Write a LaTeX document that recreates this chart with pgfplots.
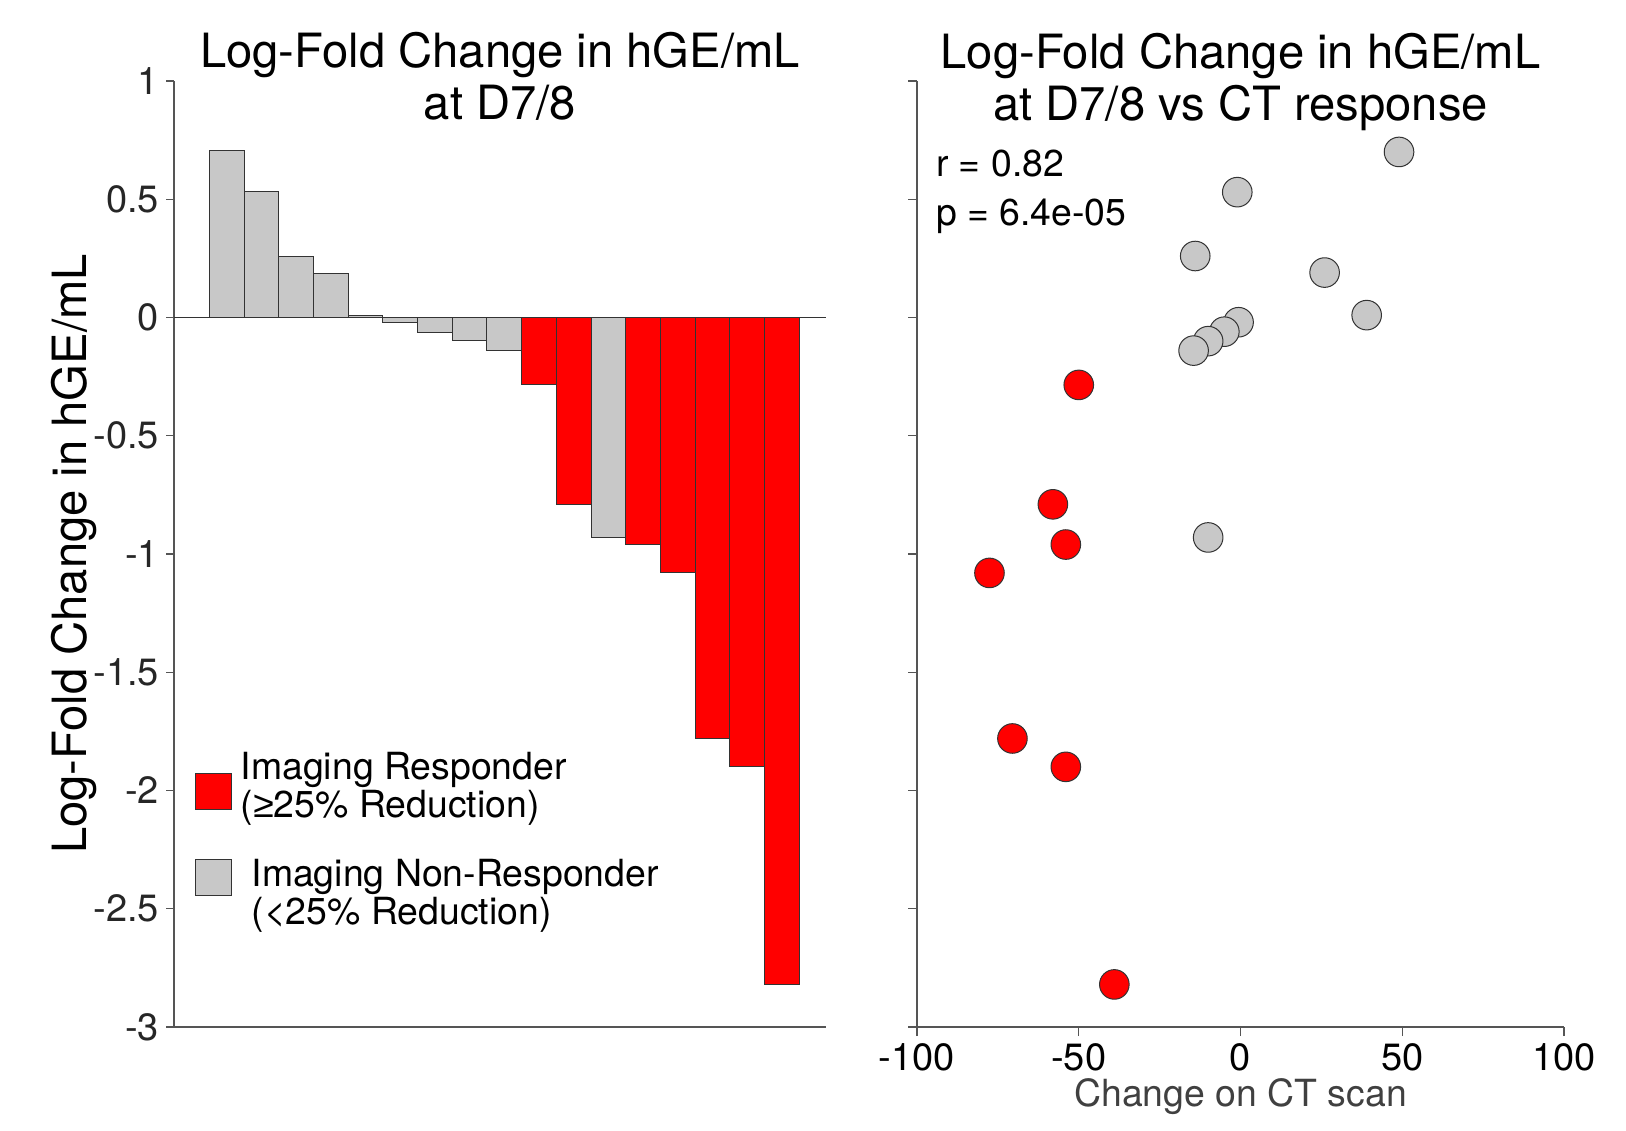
\documentclass[border=0pt]{standalone}
\usepackage{fontspec}
\setmainfont{TeX Gyre Heros}
\newfontfamily\symfont{Liberation Sans}
\usepackage{pgfplots}
\pgfplotsset{compat=1.18}
\definecolor{barred}{RGB}{255,0,0}
\definecolor{bargray}{RGB}{200,200,200}
\definecolor{spine}{RGB}{85,85,85}
\pgfplotsset{
  sqlegendA/.style={legend image code/.code={\draw[##1,/tikz/.cd] (0pt,-11.6pt) rectangle (18pt,6.4pt);}},
  sqlegendB/.style={legend image code/.code={\draw[##1,/tikz/.cd] (0pt,-1.2pt) rectangle (18pt,16.8pt);}},
}
\begin{document}
\begin{tikzpicture}
\useasboundingbox (0,0) rectangle (813pt,565pt);
\begin{axis}[
  at={(87pt,51.5pt)}, anchor=south west,
  scale only axis, width=326pt, height=473pt,
  xmin=-0.52, xmax=18.27, ymin=-3, ymax=1,
  axis x line*=bottom, axis y line*=left,
  axis line style={spine, line width=0.7pt},
  xtick=\empty,
  ytick={-3,-2.5,-2,-1.5,-1,-0.5,0,0.5,1},
  yticklabels={-3,-2.5,-2,-1.5,-1,-0.5,0,0.5,1},
  tick style={spine, line width=0.7pt},
  tick align=outside, major tick length=4pt,
  yticklabel style={font=\fontsize{19}{22}\selectfont, text=black!85},
  ylabel={Log-Fold Change in hGE/mL},
  ylabel style={font=\fontsize{23.6}{26}\selectfont, at={(axis description cs:-0.153,0.5)}, anchor=center},
  title={Log-Fold Change in hGE/mL\\at D7/8},
  title style={font=\fontsize{23.6}{26}\selectfont, align=center, at={(axis description cs:0.5,1)}, anchor=center, yshift=-3.7pt},
  legend style={at={(axis description cs:0.031,0.295)}, anchor=north west, draw=none, fill=none,
    font=\fontsize{18.7}{17.5}\selectfont, row sep=15.8pt, inner sep=0pt, cells={align=left}},
  legend cell align=left,
]
\addplot[ybar, bar width=1, bar shift=0pt, fill=barred, draw=black!80, line width=0.5pt, sqlegendA]
  coordinates {(10,-0.285)(11,-0.79)(13,-0.96)(14,-1.08)(15,-1.78)(16,-1.90)(17,-2.82)};
\addlegendentry{\hspace*{2.6pt}Imaging Responder\\\hspace*{2.6pt}({\symfont ≥}25\% Reduction)}
\addplot[ybar, bar width=1, bar shift=0pt, fill=bargray, draw=black!80, line width=0.5pt, sqlegendB]
  coordinates {(1,0.706)(2,0.534)(3,0.26)(4,0.186)(5,0.008)(6,-0.021)(7,-0.064)(8,-0.097)(9,-0.141)(12,-0.93)};
\addlegendentry{\hspace*{8pt}Imaging Non-Responder\\\hspace*{8pt}(<25\% Reduction)}
\addplot[black!80, line width=0.6pt, forget plot] coordinates {(-0.52,0)(18.27,0)};
\end{axis}
\begin{axis}[
  at={(458.5pt,51.5pt)}, anchor=south west,
  scale only axis, width=323.5pt, height=473pt,
  xmin=-100, xmax=100, ymin=-3, ymax=1,
  axis x line*=bottom, axis y line*=left,
  axis line style={spine, line width=0.7pt},
  xtick={-100,-50,0,50,100},
  xticklabels={-100,-50,0,50,100},
  ytick={-3,-2.5,-2,-1.5,-1,-0.5,0,0.5,1},
  yticklabels={},
  tick style={spine, line width=0.7pt},
  tick align=outside, major tick length=4.5pt,
  xticklabel style={font=\fontsize{19}{22}\selectfont, text=black},
  xlabel={Change on CT scan},
  xlabel style={font=\fontsize{18.7}{22}\selectfont, text=black!75, at={(axis description cs:0.5,-0.0738)}, anchor=center},
  title={Log-Fold Change in hGE/mL\\at D7/8 vs CT response},
  title style={font=\fontsize{23.6}{26}\selectfont, align=center, at={(axis description cs:0.5,1)}, anchor=center, yshift=-6.3pt},
]
\addplot[only marks, mark=*, mark size=7.4pt, mark options={fill=bargray, draw=black!80, line width=0.5pt}]
  coordinates {(49,0.70)(-1,0.53)(-14,0.26)(26,0.19)(39,0.01)(-0.6,-0.02)(-5,-0.06)(-10,-0.10)(-14.5,-0.14)(-10,-0.93)};
\addplot[only marks, mark=*, mark size=7.4pt, mark options={fill=barred, draw=black!80, line width=0.5pt}]
  coordinates {(-50,-0.285)(-58,-0.79)(-54,-0.96)(-77.6,-1.08)(-70.5,-1.78)(-54,-1.90)(-39,-2.82)};
\node[anchor=west, font=\fontsize{18.7}{22}\selectfont, inner sep=0pt] at (axis description cs:0.029,0.913) {r = 0.82};
\node[anchor=west, font=\fontsize{18.7}{22}\selectfont, inner sep=0pt] at (axis description cs:0.029,0.857) {p = 6.4e-05};
\end{axis}
\end{tikzpicture}
\end{document}
